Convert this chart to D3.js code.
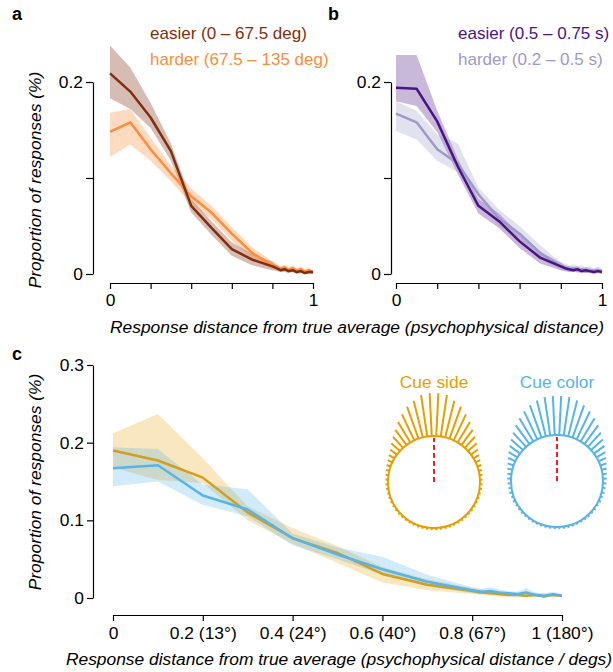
<!DOCTYPE html>
<html>
<head>
<meta charset="utf-8">
<script src="https://cdn.jsdelivr.net/npm/d3@7"></script>
<style>
  body { margin: 0; background: #fff; }
  svg { font-family: "Liberation Sans", Arial, Helvetica, sans-serif; }
</style>
</head>
<body>
<script>
// response distance (psychophysical), shared by all panels
const dist = [0, 0.1, 0.2, 0.3, 0.4, 0.5, 0.6, 0.7, 0.8, 0.82, 0.84, 0.86, 0.88, 0.9, 0.92, 0.94, 0.96, 0.98, 1];

// panel a : angle difficulty
const aEasy   = [.209, .19, .163, .128, .071, .048, .026, .015, .008, .006, .004, .005, .003, .004, .002, .003, .001, .002, .002];
const aEasyLo = [.183, .172, .152, .118, .064, .041, .019, .009, .004, .003, .002, .002, .001, .002, .000, .001, .000, .000, .000];
const aEasyHi = [.238, .215, .178, .136, .078, .055, .033, .021, .013, .009, .007, .008, .006, .007, .005, .006, .004, .005, .004];
const aHard   = [.148, .158, .13, .105, .081, .064, .042, .022, .009, .008, .005, .007, .004, .006, .003, .005, .002, .004, .001];
const aHardLo = [.122, .135, .118, .097, .073, .057, .035, .016, .005, .005, .002, .004, .001, .003, .001, .002, .000, .001, .000];
const aHardHi = [.168, .172, .142, .113, .089, .071, .049, .028, .013, .011, .008, .010, .007, .009, .006, .008, .005, .007, .003];

// panel b : duration difficulty
const bEasy   = [.194, .193, .159, .112, .071, .055, .034, .017, .008, .006, .005, .004, .005, .003, .004, .003, .002, .003, .002];
const bEasyLo = [.18, .175, .148, .104, .063, .048, .027, .011, .004, .003, .002, .002, .002, .001, .001, .001, .000, .001, .000];
const bEasyHi = [.228, .228, .17, .12, .078, .063, .041, .023, .012, .009, .008, .007, .008, .006, .007, .006, .005, .006, .004];
const bHard   = [.167, .158, .13, .115, .083, .058, .042, .022, .008, .007, .005, .006, .004, .005, .003, .004, .003, .004, .003];
const bHardLo = [.149, .14, .118, .106, .075, .05, .035, .016, .004, .003, .002, .003, .001, .002, .001, .001, .001, .001, .001];
const bHardHi = [.18, .17, .145, .136, .09, .067, .05, .03, .012, .011, .009, .010, .008, .009, .007, .008, .006, .008, .006];

// panel c : cue side vs cue color
const cSide    = [.19, .177, .155, .11, .077, .058, .031, .017, .009, .007, .006, .005, .004, .004, .003, .004, .002, .004, .003];
const cSideLo  = [.168, .152, .148, .1, .07, .045, .02, .01, .005, .004, .003, .002, .002, .002, .001, .002, .001, .002, .001];
const cSideHi  = [.212, .237, .18, .118, .09, .067, .04, .024, .013, .011, .009, .008, .007, .007, .006, .007, .005, .006, .005];
const cColor   = [.167, .171, .132, .114, .077, .056, .037, .021, .010, .008, .009, .007, .006, .005, .007, .004, .003, .005, .003];
const cColorLo = [.144, .15, .12, .105, .068, .05, .03, .015, .006, .005, .005, .004, .003, .002, .003, .002, .001, .002, .001];
const cColorHi = [.194, .192, .146, .14, .083, .065, .053, .03, .014, .012, .014, .011, .009, .008, .013, .007, .006, .008, .005];

const cTickLabels = ["0", "0.2 (13°)", "0.4 (24°)", "0.6 (40°)", "0.8 (67°)", "1 (180°)"];

// inset histograms: half circle, from top (0 deg) to bottom (180 deg), relative counts
const sideHist  = [1, .98, .88, .79, .67, .56, .44, .35, .27, .2, .15, .12, .1, .08, .07, .06, .06, .06, .05, .05, .05, .05, .05, .05, .05, .05, .05, .05, .05, .05, .05, .05];
const colorHist = [.91, .9, .86, .8, .72, .63, .54, .45, .37, .3, .24, .19, .15, .12, .1, .09, .08, .07, .07, .06, .06, .05, .05, .05, .05, .05, .05, .05, .05, .05, .05, .05];

const W = 613, H = 672;
const FS = 17.4;
const svg = d3.select("body").append("svg").attr("width", W).attr("height", H);

const fmt = d => d === 0 ? "0" : d3.format(".1f")(d);

// band for one series, returns rows for the line
function series(g, x, y, mean, lo, hi, color, bandOpacity) {
  const rows = dist.map((d, i) => ({d, m: mean[i], lo: lo[i], hi: hi[i]}));
  g.append("path").datum(rows)
    .attr("fill", color).attr("fill-opacity", bandOpacity)
    .attr("d", d3.area().x(r => x(r.d)).y0(r => y(r.lo)).y1(r => y(r.hi)));
  return rows;
}
function seriesLine(g, x, y, rows, color) {
  g.append("path").datum(rows)
    .attr("fill", "none").attr("stroke", color).attr("stroke-width", 2.5)
    .attr("stroke-linejoin", "round")
    .attr("d", d3.line().x(r => x(r.d)).y(r => y(r.m)));
}

function styleAxis(g) {
  g.selectAll("path, line").attr("stroke", "#000").attr("stroke-width", 1.2);
  g.selectAll("text").attr("font-size", FS).attr("fill", "#000")
    .attr("font-family", "'Liberation Sans', Arial, sans-serif");
}

// ---- panels a and b
function smallPanel(opt) {
  const g = svg.append("g");
  const x = d3.scaleLinear().domain([0, 1]).range([opt.x0, opt.x1]);
  const y = d3.scaleLinear().domain([0, 0.2]).range([274, 82]);

  const r1 = series(g, x, y, opt.easy, opt.easyLo, opt.easyHi, opt.c1, opt.o1);
  const r2 = series(g, x, y, opt.hard, opt.hardLo, opt.hardHi, opt.c2, opt.o2);
  seriesLine(g, x, y, r2, opt.c2);
  seriesLine(g, x, y, r1, opt.c1);

  g.append("g").attr("transform", `translate(${opt.yAxisX},0)`)
    .call(d3.axisLeft(y).tickValues([0, 0.1, 0.2]).tickSize(7).tickSizeOuter(0).tickPadding(3)
      .tickFormat(d => Math.abs(d - 0.1) < 1e-9 ? "" : fmt(d)))
    .call(styleAxis);

  g.append("g").attr("transform", "translate(0,283)")
    .call(d3.axisBottom(x).tickValues([0, 0.2, 0.4, 0.6, 0.8, 1]).tickSize(6).tickSizeOuter(0).tickPadding(5)
      .tickFormat(d => (d === 0 || d === 1) ? String(d) : ""))
    .call(styleAxis);

  svg.append("text").attr("x", opt.lx).attr("y", 39).attr("font-size", 17).attr("fill", opt.c1).text(opt.t1);
  svg.append("text").attr("x", opt.lx).attr("y", 65).attr("font-size", 17).attr("fill", opt.c2).text(opt.t2);
  svg.append("text").attr("x", opt.px).attr("y", 20).attr("font-size", 18).attr("font-weight", "bold").text(opt.letter);
}

smallPanel({
  letter: "a", px: 12, x0: 110, x1: 313, yAxisX: 93, lx: 150,
  easy: aEasy, easyLo: aEasyLo, easyHi: aEasyHi, hard: aHard, hardLo: aHardLo, hardHi: aHardHi,
  c1: "#7f2f0f", c2: "#fd8d3c", o1: 0.32, o2: 0.32,
  t1: "easier (0 – 67.5 deg)", t2: "harder (67.5 – 135 deg)"
});
smallPanel({
  letter: "b", px: 328, x0: 396, x1: 602, yAxisX: 391, lx: 458,
  easy: bEasy, easyLo: bEasyLo, easyHi: bEasyHi, hard: bHard, hardLo: bHardLo, hardHi: bHardHi,
  c1: "#4a1486", c2: "#9e9ac8", o1: 0.3, o2: 0.3,
  t1: "easier (0.5 – 0.75 s)", t2: "harder (0.2 – 0.5 s)"
});

// shared titles for a/b
svg.append("text").attr("x", 357).attr("y", 333).attr("text-anchor", "middle")
  .attr("font-size", FS).attr("font-style", "italic")
  .text("Response distance from true average (psychophysical distance)");
svg.append("text").attr("transform", "translate(41,180) rotate(-90)").attr("text-anchor", "middle")
  .attr("font-size", FS).attr("font-style", "italic").text("Proportion of responses (%)");

// ---- panel c
{
  const g = svg.append("g");
  const x = d3.scaleLinear().domain([0, 1]).range([113, 562]);
  const y = d3.scaleLinear().domain([0, 0.3]).range([598, 365]);
  const gold = "#E69F00", blue = "#56B4E9";

  const rs = series(g, x, y, cSide, cSideLo, cSideHi, gold, 0.25);
  const rc = series(g, x, y, cColor, cColorLo, cColorHi, blue, 0.27);
  seriesLine(g, x, y, rs, "#d29e1e");
  seriesLine(g, x, y, rc, blue);

  g.append("g").attr("transform", "translate(93,0)")
    .call(d3.axisLeft(y).tickValues([0, 0.1, 0.2, 0.3]).tickSize(6).tickSizeOuter(0).tickPadding(3).tickFormat(fmt))
    .call(styleAxis);
  g.append("g").attr("transform", "translate(0,615)")
    .call(d3.axisBottom(x).tickValues([0, 0.2, 0.4, 0.6, 0.8, 1]).tickSize(6).tickSizeOuter(0).tickPadding(6)
      .tickFormat((d, i) => cTickLabels[i]))
    .call(styleAxis);

  svg.append("text").attr("x", 12).attr("y", 360).attr("font-size", 18).attr("font-weight", "bold").text("c");
  svg.append("text").attr("x", 339).attr("y", 665).attr("text-anchor", "middle")
    .attr("font-size", FS).attr("font-style", "italic")
    .text("Response distance from true average (psychophysical distance / degs)");
  svg.append("text").attr("transform", "translate(41,482) rotate(-90)").attr("text-anchor", "middle")
    .attr("font-size", FS).attr("font-style", "italic").text("Proportion of responses (%)");

  // insets: response histograms around the circle
  const spokeLen = d3.scaleLinear().domain([0, 1]).range([0, 43]);
  const step = 180 / sideHist.length;
  function inset(cx, cy, hist, color, label) {
    const r = 46;
    const gi = svg.append("g").attr("transform", `translate(${cx},${cy})`);
    const spokes = [];
    hist.forEach((v, i) => {
      const a = (i + 0.5) * step;
      spokes.push({a, v}, {a: -a, v});
    });
    gi.selectAll("line.spoke").data(spokes).join("line")
      .attr("class", "spoke")
      .attr("x1", d => Math.sin(d.a * Math.PI / 180) * r)
      .attr("y1", d => -Math.cos(d.a * Math.PI / 180) * r)
      .attr("x2", d => Math.sin(d.a * Math.PI / 180) * (r + spokeLen(d.v)))
      .attr("y2", d => -Math.cos(d.a * Math.PI / 180) * (r + spokeLen(d.v)))
      .attr("stroke", color).attr("stroke-width", 2);
    gi.append("circle").attr("r", r).attr("fill", "none").attr("stroke", color).attr("stroke-width", 2);
    gi.append("line").attr("x1", 0).attr("y1", 0).attr("x2", 0).attr("y2", -r + 2)
      .attr("stroke", "#ff1a1a").attr("stroke-width", 2).attr("stroke-dasharray", "5,3");
    svg.append("text").attr("x", cx).attr("y", 388).attr("text-anchor", "middle")
      .attr("font-size", FS).attr("fill", color).text(label);
  }
  inset(434, 482, sideHist, gold, "Cue side");
  inset(557, 481, colorHist, blue, "Cue color");
}
</script>
</body>
</html>
